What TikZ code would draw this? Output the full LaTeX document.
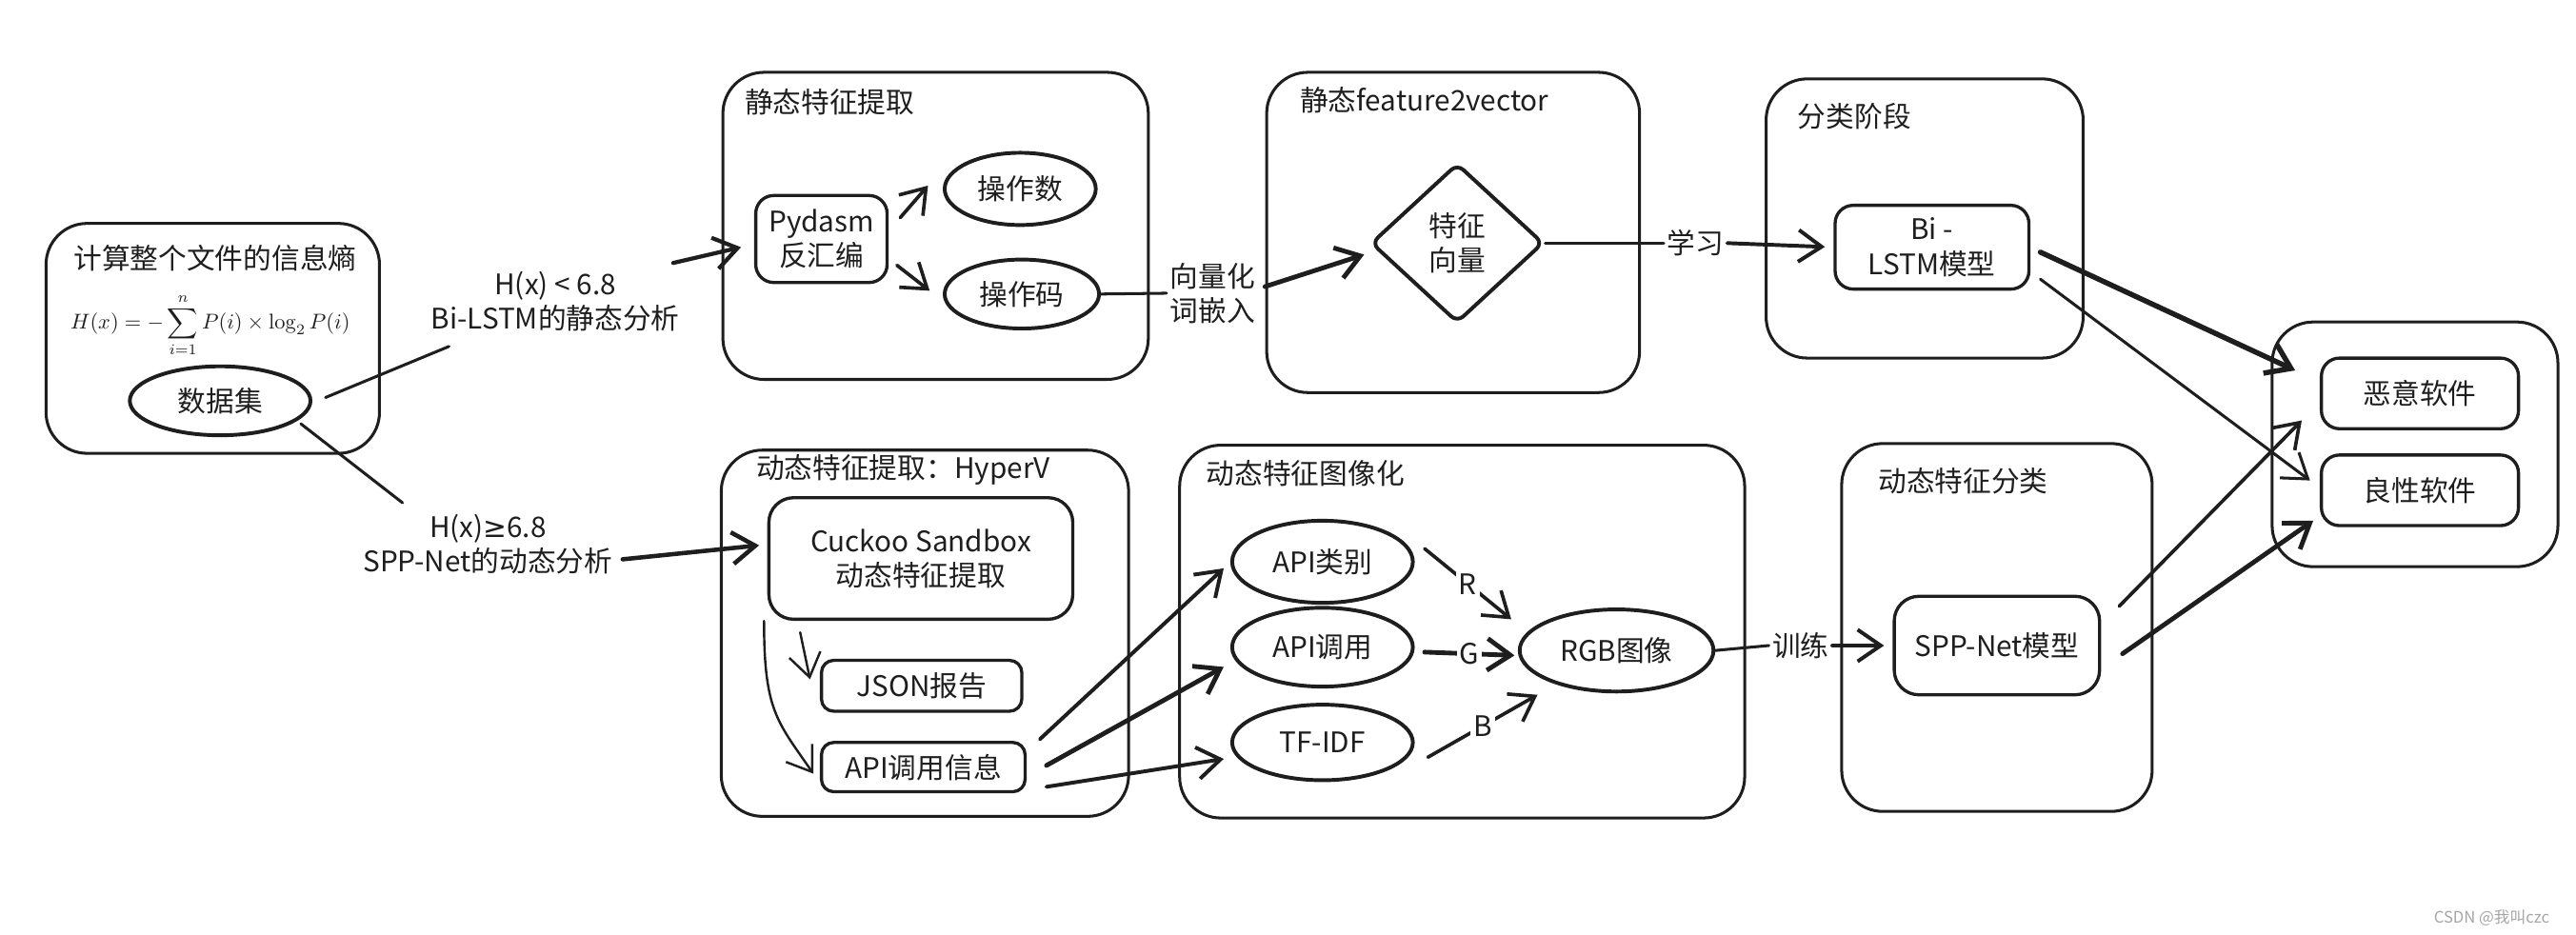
\documentclass[tikz,border=0pt]{standalone}
\usepackage[no-math]{fontspec}
\setmainfont{Noto Sans CJK SC}
\newfontfamily\symfont{DejaVu Sans}
\usetikzlibrary{positioning,calc,arrows.meta,shapes.geometric}
\definecolor{ink}{HTML}{1E1E1E}

\begin{document}
\begin{tikzpicture}[x=0.02cm, y=-0.02cm, line cap=round, line join=round,
  every node/.style={font=\fontsize{9.8}{12}\selectfont, text=ink},
  grpbox/.style={draw=ink, line width=1pt, rounded corners=0.5cm, inner sep=0pt},
  inbox/.style={draw=ink, line width=1.1pt, rounded corners=0.22cm, inner sep=0pt, align=center},
  ovalnode/.style={draw=ink, ellipse, line width=1.3pt, inner sep=0pt},
  ttl/.style={anchor=west, inner sep=0pt},
  lbl/.style={align=center, inner sep=1pt},
  arr/.style={draw=ink, line width=1pt, -{Straight Barb[length=8pt,width=11pt]}},
  plain/.style={draw=ink, line width=1pt}]
  \useasboundingbox (0,0) rectangle (1568,569);
  \fill[white] (0,0) rectangle (1568,569);

  % Entropy of the whole file
  \node[grpbox, minimum width=4.06cm, minimum height=2.8cm] (ent) at (129.5,206) {};
  \node[inner sep=0pt] (enttitle) at (131,157) {计算整个文件的信息熵};
  \node[scale=0.74, inner sep=0pt] (formula) at (128,198) {$\displaystyle H(x)=-\sum_{i=1}^{n}P(i)\times\log_2 P(i)$};
  \node[ovalnode, minimum width=2.2cm, minimum height=0.84cm] (ds) at (134,244) {数据集};

  % Static feature extraction
  \node[grpbox, minimum width=5.18cm, minimum height=3.74cm] (stat) at (569.5,137.5) {};
  \node[ttl] (stattitle) at (453,62) {静态特征提取};
  \node[inbox, minimum width=1.6cm, minimum height=1.06cm] (pyd) at (500,145.5) {Pydasm\\反汇编};
  \node[ovalnode, minimum width=1.84cm, minimum height=0.88cm] (opn) at (621,115) {操作数};
  \node[ovalnode, minimum width=1.88cm, minimum height=0.84cm] (opc) at (622,179) {操作码};

  % Static feature2vector
  \node[grpbox, minimum width=4.54cm, minimum height=3.9cm] (f2v) at (884.5,141.5) {};
  \node[ttl] (f2vtitle) at (791,61) {静态feature2vector};
  \node[draw=ink, diamond, line width=1.3pt, minimum width=2.1cm, minimum height=1.94cm,
    inner sep=0pt, align=center, rounded corners=0.1cm] (feat) at (887,148) {特征\\向量};

  % Classification stage
  \node[grpbox, minimum width=3.86cm, minimum height=3.4cm] (cls) at (1171.5,133) {};
  \node[ttl] (clstitle) at (1094,71) {分类阶段};
  \node[inbox, minimum width=2.36cm, minimum height=1.02cm] (bil) at (1176,150.5) {Bi -\\LSTM模型};

  % Results
  \node[grpbox, minimum width=3.48cm, minimum height=2.98cm] (res) at (1470,270.5) {};
  \node[inbox, minimum width=2.4cm, minimum height=0.86cm] (mal) at (1473,239.5) {恶意软件};
  \node[inbox, minimum width=2.4cm, minimum height=0.86cm] (good) at (1473,298.5) {良性软件};

  % Dynamic feature extraction
  \node[grpbox, minimum width=4.96cm, minimum height=4.46cm] (dyn) at (563,385.5) {};
  \node[ttl] (dyntitle) at (460,286) {动态特征提取：HyperV};
  \node[inbox, minimum width=3.7cm, minimum height=1.48cm, rounded corners=0.3cm] (cuck) at (560.5,340) {Cuckoo Sandbox\\动态特征提取};
  \node[inbox, minimum width=2.44cm, minimum height=0.62cm, rounded corners=0.15cm] (json) at (561,417.5) {JSON报告};
  \node[inbox, minimum width=2.48cm, minimum height=0.6cm, rounded corners=0.15cm] (info) at (562,467) {API调用信息};

  % Dynamic feature imaging
  \node[grpbox, minimum width=6.88cm, minimum height=4.54cm] (img) at (890,384.5) {};
  \node[ttl] (imgtitle) at (734,288) {动态特征图像化};
  \node[ovalnode, minimum width=2.2cm, minimum height=1cm] (cat) at (805,342) {API类别};
  \node[ovalnode, minimum width=2.2cm, minimum height=0.96cm] (call) at (805,394) {API调用};
  \node[ovalnode, minimum width=2.2cm, minimum height=0.92cm] (tf) at (805,452) {TF-IDF};
  \node[ovalnode, minimum width=2.36cm, minimum height=1cm] (rgb) at (984,396) {RGB图像};

  % Dynamic feature classification
  \node[grpbox, minimum width=3.78cm, minimum height=4.48cm] (dcls) at (1215.5,382) {};
  \node[ttl] (dclstitle) at (1143,293) {动态特征分类};
  \node[inbox, minimum width=2.5cm, minimum height=1.2cm, rounded corners=0.3cm] (spp) at (1215.5,393) {SPP-Net模型};

  % Labels on the connectors
  \node[lbl] (lowlab) at (338,183.5) {H(x) < 6.8\\Bi-LSTM的静态分析};
  \node[lbl] (highlab) at (297,331.5) {H(x){\symfont ≥}6.8\\SPP-Net的动态分析};
  \node[lbl] (veclab) at (738,178.5) {向量化\\词嵌入};
  \node[lbl] (learnlab) at (1032,148) {学习};
  \node[lbl] (trainlab) at (1096,393) {训练};

  % Entropy split
  \draw[plain] ($(ds.east)+(8,-2)$) -- ($(lowlab.south west)+(13,7)$);
  \draw[arr, line width=1.4pt] ($(lowlab.north east)+(-6,-3)$) -- ($(pyd.west)+(-8,5)$);
  \draw[plain] ($(ds.east)+(-7,14)$) -- ($(highlab.north west)+(26,-5)$);
  \draw[arr, line width=1.5pt] ($(highlab.east)+(4,9)$) -- ($(cuck.west)+(-5,-8)$);

  % Static branch
  \draw[arr, line width=1.2pt] ($(pyd.east)+(7,-13)$) -- ($(opn.west)+(-9,-2)$);
  \draw[arr, line width=1.2pt] ($(pyd.east)+(5,16)$) -- ($(opc.west)+(-8,-2)$);
  \draw[plain] (opc.east) -- (veclab.west);
  \draw[arr, line width=1.6pt] ($(veclab.east)+(4,-4)$) -- ($(feat.west)+(-3,7)$);
  \draw[plain] (feat.east) -- (learnlab.west);
  \draw[arr, line width=1.3pt, shorten >=3pt] (learnlab.east) -- (bil.west);

  % Dynamic branch
  \draw[arr, line width=0.8pt] ($(cuck.south west)+(20,7)$) -- ($(json.west)+(-6,-4)$);
  \draw[arr, line width=0.8pt] ($(cuck.south west)+(-2,0)$) .. controls +(0,55) and +(-22,-32) .. ($(info.west)+(-4,4)$);
  \draw[arr, line width=1.3pt] ($(info.north east)+(8,-1)$) -- ($(cat.west)+(-4,4)$);
  \draw[arr, line width=1.6pt] ($(info.east)+(12,-1)$) -- ($(call.west)+(-4,12)$);
  \draw[arr, line width=1.3pt] ($(info.east)+(12,12)$) -- ($(tf.west)+(-4,10)$);
  \draw[arr, line width=1.2pt] ($(cat.east)+(6,-8)$) -- node[lbl, fill=white] (rlab) {R} ($(rgb.west)+(-4,-19)$);
  \draw[arr, line width=1.6pt] ($(call.east)+(6,3)$) -- node[lbl, fill=white] (glab) {G} ($(rgb.west)+(-2,3)$);
  \draw[arr, line width=1.2pt] ($(tf.east)+(8,9)$) -- node[lbl, fill=white] (blab) {B} ($(rgb.west)+(12,27)$);
  \draw[plain] (rgb.east) -- (trainlab.west);
  \draw[arr, line width=1.3pt, shorten >=3pt] (trainlab.east) -- (spp.west);

  % Into the results
  \draw[arr, line width=1.8pt] ($(bil.east)+(6,3)$) -- ($(mal.west)+(-15,-14)$);
  \draw[arr] ($(bil.south east)+(6,-7)$) -- ($(good.west)+(-6,-6)$);
  \draw[arr, line width=1.2pt] ($(spp.north east)+(11,7)$) -- ($(mal.south west)+(-11,-6)$);
  \draw[arr, line width=1.6pt] ($(spp.east)+(13,5)$) -- ($(good.south west)+(-4,-4)$);

  \node[font=\fontsize{5.5}{6}\selectfont, text=gray!70, anchor=east] (mark) at (1558,559) {CSDN @我叫czc};
\end{tikzpicture}
\end{document}
